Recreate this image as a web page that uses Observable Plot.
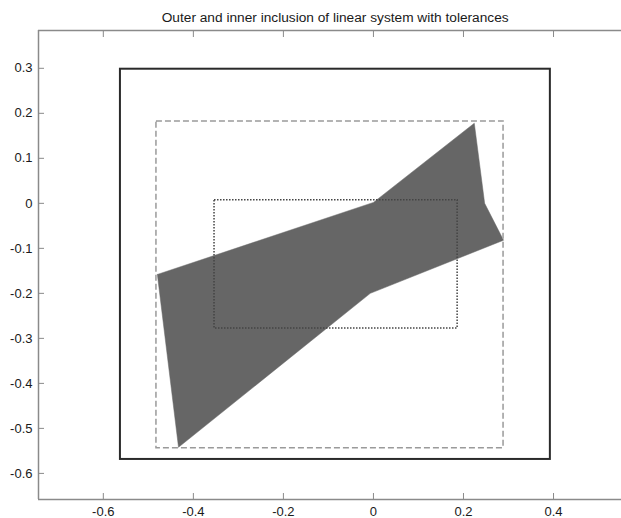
<!DOCTYPE html>
<html>
<head>
<meta charset="utf-8">
<script src="https://cdn.jsdelivr.net/npm/d3@7"></script>
<script src="https://cdn.jsdelivr.net/npm/@observablehq/plot@0.6"></script>
<style>
  html, body { margin: 0; padding: 0; background: #fff; }
  #chart svg { display: block; }
</style>
</head>
<body>
<div id="chart"></div>
<script>
// Axis ranges and ticks
const xDomain = [-0.744, 0.551];
const yDomain = [-0.658, 0.384];
const xTicks = [-0.6, -0.4, -0.2, 0, 0.2, 0.4];
const yTicks = [0.3, 0.2, 0.1, 0, -0.1, -0.2, -0.3, -0.4, -0.5, -0.6];

// Outer inclusion (solid box)
const outerX = [-0.562, 0.393];
const outerY = [-0.569, 0.298];
// Dashed box
const dashedX = [-0.482, 0.289];
const dashedY = [-0.544, 0.182];
// Inner inclusion (dotted box)
const innerX = [-0.353, 0.187];
const innerY = [-0.278, 0.007];

// Solution set polygon
const polyX = [-0.480, 0.000, 0.224, 0.247, 0.289, -0.007, -0.433, -0.480];
const polyY = [-0.158, 0.002, 0.178, 0.000, -0.082, -0.200, -0.542, -0.158];

const title = "Outer and inner inclusion of linear system with tolerances";

const poly = polyX.map((x, i) => ({x, y: polyY[i]}));
const box = (bx, by) => [{x1: bx[0], x2: bx[1], y1: by[0], y2: by[1]}];

const axisColor = "#8a8a8a";
const textColor = "#1a1a1a";

const chart = Plot.plot({
  width: 621,
  height: 518,
  marginLeft: 38,
  marginRight: 0,
  marginTop: 30,
  marginBottom: 19,
  style: {fontFamily: "'Liberation Sans', Arial, sans-serif", fontSize: "13px", color: textColor, background: "#fff"},
  x: {domain: xDomain, ticks: xTicks},
  y: {domain: yDomain, ticks: yTicks},
  marks: [
    Plot.line(poly, {x: "x", y: "y", fill: "#666666", stroke: "#666666", strokeWidth: 0.5}),
    Plot.rect(box(outerX, outerY), {x1: "x1", x2: "x2", y1: "y1", y2: "y2", fill: "none", stroke: "#2a2a2a", strokeWidth: 2}),
    Plot.rect(box(dashedX, dashedY), {x1: "x1", x2: "x2", y1: "y1", y2: "y2", fill: "none", stroke: "#9a9a9a", strokeWidth: 1.5, strokeDasharray: "6,3"}),
    Plot.rect(box(innerX, innerY), {x1: "x1", x2: "x2", y1: "y1", y2: "y2", fill: "none", stroke: "#444444", strokeWidth: 1.5, strokeDasharray: "1.5,1.5"}),
    Plot.ruleY([yDomain[0]], {stroke: axisColor, strokeWidth: 1.5}),
    Plot.ruleY([yDomain[1]], {stroke: axisColor, strokeWidth: 1.5}),
    Plot.ruleX([xDomain[0]], {stroke: axisColor, strokeWidth: 1.5}),
    Plot.axisX(xTicks, {anchor: "bottom", tickSize: -6, tickPadding: 13, stroke: axisColor, fill: textColor, label: null, tickFormat: d => String(d)}),
    Plot.axisX(xTicks, {anchor: "top", tickSize: -6, stroke: axisColor, tickFormat: () => "", label: null}),
    Plot.axisY(yTicks, {anchor: "left", tickSize: -6, tickPadding: 12, stroke: axisColor, fill: textColor, label: null, tickFormat: d => String(d)}),
    Plot.text([title], {x: -0.085, frameAnchor: "top", dy: -18, text: d => d, fontSize: 13.7, fill: textColor})
  ]
});
document.getElementById("chart").appendChild(chart);
</script>
</body>
</html>
